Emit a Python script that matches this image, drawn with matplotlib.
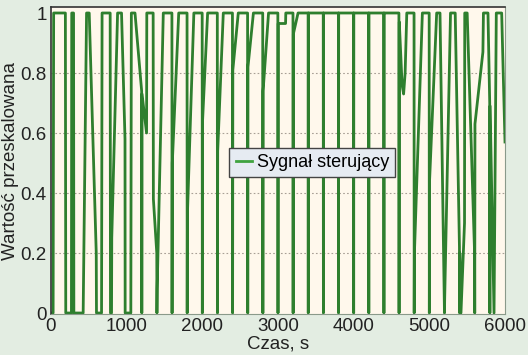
import matplotlib
matplotlib.use("Agg")
import matplotlib.pyplot as plt
from matplotlib.lines import Line2D

plt.rcParams['font.family'] = ['Liberation Sans', 'DejaVu Sans']

# sygnal sterujacy (czas [s], wartosc)
# 0 - 1600 s: nieregularne impulsy i rampy
poczatek = [(0, 0), (28, 0), (35, 1), (190, 1), (195, 0),
            (270, 0), (274, 1), (298, 1), (302, 0),
            (425, 0), (470, 1), (505, 1), (598, 0.2), (601, 0),
            (668, 0), (675, 1), (782, 1), (786, 0), (800, 0), (803, 0.25), (880, 1),
            (932, 1), (978, 0.58), (980, 0),
            (1055, 0), (1062, 1), (1110, 1), (1198, 0.74), (1200, 0), (1203, 0.73),
            (1263, 0.6), (1266, 1), (1350, 1), (1353, 0.38), (1398, 0.2), (1400, 0),
            (1403, 0.08), (1484, 1), (1598, 1)]

# 1600 - 3400 s: spadek do zera i narastanie do 1
rampy = [(1600, 0), (1603, 0.5), (1688, 1), (1798, 1),
         (1800, 0), (1803, 0.33), (1888, 1), (1998, 1),
         (2000, 0), (2003, 0.64), (2070, 1), (2198, 1),
         (2200, 0), (2203, 0.54), (2277, 1), (2398, 1),
         (2400, 0), (2403, 0.81), (2475, 1), (2598, 1),
         (2600, 0), (2603, 0.82), (2675, 1), (2798, 1),
         (2800, 0), (2803, 0.74), (2875, 1), (2998, 1),
         (3000, 0), (3003, 0.965), (3100, 0.965), (3103, 1), (3198, 1),
         (3200, 0), (3203, 0.93), (3265, 1), (3398, 1)]

# 3400 - 4600 s: krotkie zera co 200 s
szpilki = [(3400, 0), (3402, 1), (3598, 1), (3600, 0), (3602, 1), (3798, 1),
           (3800, 0), (3802, 1), (3998, 1), (4000, 0), (4002, 1), (4198, 1),
           (4200, 0), (4202, 1), (4398, 1), (4400, 0), (4402, 1), (4598, 1)]

# 4600 - 6000 s
koniec = [(4600, 0), (4603, 0.97), (4640, 0.76), (4660, 0.73), (4680, 0.8), (4702, 1), (4798, 1),
          (4800, 0), (4803, 0.2), (4908, 1), (4998, 1),
          (5000, 0), (5003, 0.44), (5097, 1), (5141, 1), (5196, 0.08), (5200, 0),
          (5203, 0.05), (5280, 1), (5342, 1), (5398, 0.22), (5400, 0), (5403, 0.2), (5418, 0),
          (5465, 0.3), (5468, 1), (5500, 1), (5598, 0.2), (5600, 0), (5603, 0.63),
          (5708, 0.87), (5715, 1), (5775, 1), (5798, 0.7), (5800, 0), (5803, 0.69),
          (5855, 0), (5885, 1), (5956, 1), (6000, 0.57)]

x_ticks = [0, 1000, 2000, 3000, 4000, 5000, 6000]
y_ticks = [0, 0.2, 0.4, 0.6, 0.8, 1]
y_labels = ['0', '0.2', '0.4', '0.6', '0.8', '1']

punkty = poczatek + rampy + szpilki + koniec
czas = [p[0] for p in punkty]
sygnal = [p[1] for p in punkty]

fig = plt.figure(figsize=(5.28, 3.55), dpi=100, facecolor='#e3ede2')
ax = fig.add_axes([51/528, 1 - 314/355, 454/528, 307/355])
ax.set_facecolor('#fff8ec')

ax.plot(czas, sygnal, color='#2e7f2e', lw=2.0)

ax.set_xlim(0, 6000)
ax.set_ylim(-0.0033, 1.02)
ax.set_xticks(x_ticks)
ax.set_yticks(y_ticks)
ax.set_yticklabels(y_labels)
ax.tick_params(length=0, labelsize=13.5, pad=3, colors='#222222')

for v in y_ticks[1:-1]:
    ax.axhline(v, color='#a89f95', lw=0.8, ls=(0, (1.5, 2)), zorder=0)

for s in ['left', 'top']:
    ax.spines[s].set_color('#333333')
    ax.spines[s].set_linewidth(1.2)
for s in ['right', 'bottom']:
    ax.spines[s].set_color('#8a9a8a')
    ax.spines[s].set_linewidth(0.8)

ax.set_xlabel('Czas, s', fontsize=13.5, labelpad=0, color='#222222')
ax.set_ylabel('Wartość przeskalowana', fontsize=13.5, labelpad=1, color='#222222')

uchwyt = Line2D([], [], color='#3fa33f', lw=2)
leg = ax.legend([uchwyt], ['Sygnał sterujący'], loc='center left',
                bbox_to_anchor=(0.393, 0.493), fontsize=13, handlelength=0.9,
                handletextpad=0.25, borderpad=0.35, borderaxespad=0,
                fancybox=False, framealpha=1)
leg.get_frame().set_facecolor('#e6ebf2')
leg.get_frame().set_edgecolor('#444444')
leg.get_frame().set_linewidth(1.0)

fig.savefig('out.png', dpi=100, facecolor=fig.get_facecolor())
